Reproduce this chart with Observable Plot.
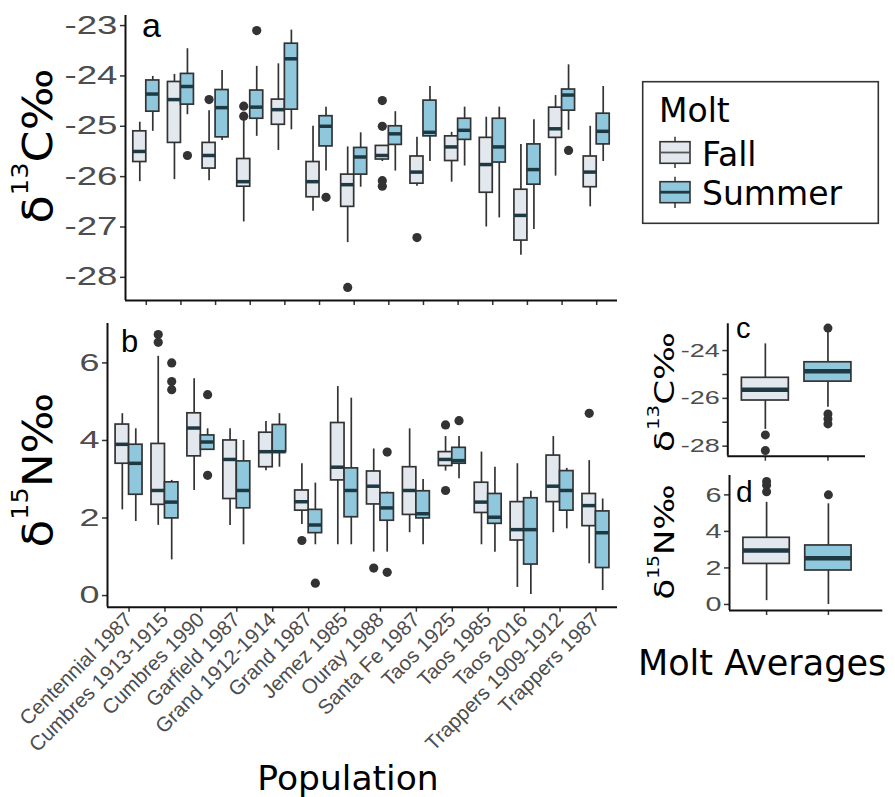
<!DOCTYPE html>
<html><head><meta charset="utf-8">
<script src="https://cdn.jsdelivr.net/npm/d3@7"></script>
<script src="https://cdn.jsdelivr.net/npm/@observablehq/plot@0.6"></script>
<style>
body{margin:0;background:#fff;}
#wrap{position:relative;width:895px;height:797px;overflow:hidden;background:#fff;}
#wrap > svg{position:absolute;}
</style></head><body><div id="wrap"></div>
<script>
const populations = ["Centennial 1987","Cumbres 1913-1915","Cumbres 1990","Garfield 1987","Grand 1912-1914","Grand 1987","Jemez 1985","Ouray 1988","Santa Fe 1987","Taos 1925","Taos 1985","Taos 2016","Trappers 1909-1912","Trappers 1987"];
const molts = ["Fall","Summer"];

// each row: [lower whisker, Q1, median, Q3, upper whisker]
const c13Fall = [
  [-26.10,-25.71,-25.50,-25.10,-24.92],[-26.06,-25.33,-24.47,-24.12,-23.97],[-26.08,-25.84,-25.58,-25.33,-24.69],
  [-26.90,-26.20,-26.10,-25.65,-24.87],[-25.48,-24.97,-24.67,-24.47,-23.76],[-26.69,-26.41,-26.10,-25.71,-25.00],
  [-27.31,-26.60,-26.16,-25.96,-25.41],[-25.70,-25.66,-25.58,-25.39,-25.39],[-26.19,-26.14,-25.91,-25.60,-25.22],
  [-26.11,-25.69,-25.41,-25.20,-25.12],[-27.00,-26.32,-25.76,-25.23,-24.82],[-27.56,-27.27,-26.77,-26.26,-25.36],
  [-25.99,-25.23,-25.05,-24.63,-24.39],[-26.60,-26.21,-25.91,-25.60,-25.00]];
const c13Summer = [
  [-25.10,-24.71,-24.36,-24.09,-24.01],[-24.77,-24.57,-24.21,-23.96,-23.46],[-25.28,-25.22,-24.63,-24.28,-23.89],
  [-25.20,-24.85,-24.62,-24.29,-23.81],[-25.07,-24.67,-23.66,-23.36,-23.09],[-25.89,-25.40,-25.00,-24.80,-24.62],
  [-26.21,-25.96,-25.61,-25.43,-25.13],[-25.89,-25.37,-25.15,-25.00,-24.71],[-25.70,-25.20,-25.12,-24.49,-24.21],
  [-25.79,-25.27,-25.08,-24.85,-24.62],[-26.82,-25.72,-25.41,-24.85,-24.62],[-27.05,-26.16,-25.86,-25.36,-24.87],
  [-25.08,-24.69,-24.38,-24.27,-23.78],[-25.70,-25.36,-25.10,-24.75,-24.21]];
const c13FallOutliers = [["Cumbres 1990",-24.47],["Garfield 1987",-24.60],["Garfield 1987",-24.80],["Jemez 1985",-28.20],
  ["Ouray 1988",-24.49],["Ouray 1988",-25.00],["Ouray 1988",-26.08],["Ouray 1988",-26.19],["Santa Fe 1987",-27.21]];
const c13SummerOutliers = [["Cumbres 1913-1915",-25.58],["Garfield 1987",-23.10],["Grand 1987",-26.41],["Trappers 1909-1912",-25.48]];

const n15Fall = [
  [2.21,3.40,3.90,4.41,4.69],[1.81,2.34,2.71,3.91,6.17],[2.71,3.59,4.32,4.70,5.59],[1.81,2.49,3.51,4.00,4.30],
  [3.22,3.31,3.71,4.20,4.49],[1.83,2.19,2.42,2.71,3.40],[1.31,2.97,3.31,4.45,5.39],[1.12,2.35,2.82,3.20,3.78],
  [1.62,2.08,2.71,3.31,4.30],[3.21,3.34,3.51,3.70,4.10],[1.31,2.13,2.41,2.91,3.70],[0.21,1.42,1.70,2.41,3.40],
  [1.62,2.41,2.82,3.61,4.10],[0.82,1.79,2.32,2.62,3.48]];
const n15Summer = [
  [1.91,2.60,3.41,3.89,4.30],[0.92,1.99,2.41,2.92,2.97],[3.74,3.76,3.96,4.13,4.30],[1.31,2.25,2.71,3.46,4.00],
  [3.31,3.70,3.71,4.40,4.69],[1.31,1.61,1.82,2.21,2.90],[1.31,2.02,2.71,3.28,5.09],[1.12,1.93,2.26,2.64,2.67],
  [1.31,1.99,2.11,2.69,2.99],[3.01,3.40,3.48,3.81,4.10],[1.12,1.85,2.02,2.62,3.31],[0.03,0.80,1.70,2.51,2.69],
  [1.72,2.19,2.71,3.21,3.28],[0.13,0.71,1.62,2.17,2.49]];
const n15FallOutliers = [["Cumbres 1913-1915",6.73],["Cumbres 1913-1915",6.53],["Grand 1987",1.42],["Ouray 1988",0.71],
  ["Taos 1925",4.40],["Taos 1925",2.71],["Trappers 1987",4.70]];
const n15SummerOutliers = [["Cumbres 1913-1915",6.00],["Cumbres 1913-1915",5.52],["Cumbres 1913-1915",5.31],
  ["Cumbres 1990",5.18],["Cumbres 1990",3.10],["Grand 1987",0.32],["Ouray 1988",3.70],["Ouray 1988",0.60],["Taos 1925",4.51]];

// Molt averages (panels c, d)
const c13Avg = [[-27.30,-26.09,-25.64,-25.14,-23.72],[-26.37,-25.30,-24.87,-24.49,-23.20]];
const c13AvgOutliers = [["Fall",-27.53],["Fall",-28.18],["Summer",-23.06],["Summer",-26.65],["Summer",-26.86],["Summer",-27.07]];
const n15Avg = [[0.21,2.22,2.95,3.65,5.59],[0.00,1.86,2.53,3.23,5.51]];
const n15AvgOutliers = [["Fall",6.17],["Fall",6.53],["Fall",6.73],["Summer",6.00]];

const c13Ticks = [-28,-27,-26,-25,-24,-23];
const n15Ticks = [0,2,4,6];
const c13AvgTicks = [-28,-27,-26,-25,-24];
const c13AvgLabels = [-28,-26,-24];
const n15AvgTicks = [0,2,4,6];

const fillRange = ["#e2e8ed", "#8fc8dc"];
const wrap = document.getElementById("wrap");

function popRows(fallArr, summerArr) {
  const rows = [];
  populations.forEach((p, i) => {
    [[fallArr, "Fall"], [summerArr, "Summer"]].forEach(([arr, m]) => {
      const [lo, q1, med, q3, hi] = arr[i];
      const left = m === "Fall";
      rows.push({pop: p, molt: m, cx: i + (left ? -0.1875 : 0.1875), x1: left ? i - 0.375 : i, x2: left ? i : i + 0.375, lo, q1, med, q3, hi});
    });
  });
  return rows;
}
function popOuts(list, molt) {
  return list.map(([p, v]) => ({cx: populations.indexOf(p) + (molt === "Fall" ? -0.1875 : 0.1875), v}));
}
function avgRows(arr) {
  return molts.map((m, k) => { const [lo, q1, med, q3, hi] = arr[k]; return {molt: m, cx: k, x1: k - 0.375, x2: k + 0.375, lo, q1, med, q3, hi}; });
}
function avgOuts(list) { return list.map(([m, v]) => ({cx: molts.indexOf(m), v})); }

function panel(o) {
  const marks = [
    Plot.axisY({ticks: o.yTicks, tickSize: 5, tickPadding: 3, fontSize: o.yFont, tickFormat: o.yFormat || (d => String(d))}),
    Plot.axisX({ticks: o.xTicks, tickSize: 5, tickPadding: o.xPad || 2, fontSize: o.xFont || 10,
      tickFormat: o.xFormat || (() => ""), ...(o.rotate ? {tickRotate: -45, textAnchor: "end"} : {})}),
    Plot.ruleX(o.rows, {x: "cx", y1: "lo", y2: "hi", stroke: "#333", strokeWidth: 1.7}),
    Plot.rect(o.rows, {x1: "x1", x2: "x2", y1: "q1", y2: "q3", fill: "molt", stroke: "#333", strokeWidth: 1.7}),
    Plot.ruleY(o.rows, {x1: "x1", x2: "x2", y: "med", stroke: "#1f3942", strokeWidth: o.medW}),
    Plot.dot(o.outs, {x: "cx", y: "v", r: o.r, fill: "#333", stroke: null}),
    Plot.ruleX([o.xDomain[0]], {stroke: "#111", strokeWidth: 2}),
    Plot.ruleY([o.yDomain[0]], o.xLineEnd != null ? {x1: o.xDomain[0], x2: o.xLineEnd, stroke: "#111", strokeWidth: 2} : {stroke: "#111", strokeWidth: 2})
  ];
  const svg = Plot.plot({
    width: o.width, height: o.height,
    marginLeft: o.ml, marginRight: o.mr, marginTop: o.mt, marginBottom: o.mb,
    x: {type: "linear", domain: o.xDomain},
    y: {domain: o.yDomain},
    color: {domain: molts, range: fillRange},
    style: {fontFamily: "Liberation Sans", background: "transparent", overflow: "visible"},
    marks
  });
  const s = d3.select(svg);
  s.selectAll('g[aria-label="y-axis tick label"], g[aria-label="x-axis tick label"]').attr("fill", "#4d4d4d");
  s.selectAll('g[aria-label="y-axis tick"], g[aria-label="x-axis tick"]').attr("stroke", "#333").attr("stroke-width", 1.5);
  if (o.yLen) s.selectAll('g[aria-label="y-axis tick label"] text')
    .filter(function() { return this.textContent !== ""; })
    .attr("textLength", o.yLen).attr("lengthAdjust", "spacingAndGlyphs");
  svg.style.left = o.left + "px";
  svg.style.top = o.top + "px";
  wrap.appendChild(svg);
  return svg;
}

// panel a
panel({rows: popRows(c13Fall, c13Summer), outs: [...popOuts(c13FallOutliers, "Fall"), ...popOuts(c13SummerOutliers, "Summer")],
  xDomain: [-0.6, 13.6], yDomain: [-28.46, -22.80], yTicks: c13Ticks, xTicks: d3.range(populations.length),
  yFont: 25, yLen: 53, medW: 3.5, r: 4.6,
  left: 0, top: 0, width: 625, height: 312, ml: 125, mr: 8, mt: 15, mb: 12});

// panel b
panel({rows: popRows(n15Fall, n15Summer), outs: [...popOuts(n15FallOutliers, "Fall"), ...popOuts(n15SummerOutliers, "Summer")],
  xDomain: [-0.6, 13.6], yDomain: [-0.3, 7.016], yTicks: n15Ticks, xTicks: d3.range(populations.length),
  xFormat: i => populations[i], xFont: 20.5, xPad: 4, rotate: true,
  yFont: 24, yLen: 20, medW: 3.5, r: 4.6,
  left: 0, top: 300, width: 625, height: 497, ml: 107, mr: 8, mt: 23, mb: 190.3});

// panel c
panel({rows: avgRows(c13Avg), outs: avgOuts(c13AvgOutliers),
  xDomain: [-0.6, 1.6], yDomain: [-28.42, -22.88], yTicks: c13AvgTicks, xTicks: [0, 1],
  yFormat: d => c13AvgLabels.includes(d) ? String(d) : "",
  yFont: 19, yLen: 39, medW: 4.5, r: 4.5,
  left: 620, top: 300, width: 275, height: 170, ml: 107.3, mr: 30, mt: 23.3, mb: 14.3});

// panel d
panel({rows: avgRows(n15Avg), outs: avgOuts(n15AvgOutliers),
  xDomain: [-0.6, 1.6], yDomain: [-0.33, 7.06], yTicks: n15AvgTicks, xTicks: [0, 1], xLineEnd: 1.88,
  yFont: 21, yLen: 16, medW: 4.5, r: 4.5,
  left: 620, top: 460, width: 275, height: 160, ml: 109, mr: 30, mt: 15, mb: 10});

// overlay: titles, panel tags, legend
const ov = d3.select(wrap).append("svg").attr("width", 895).attr("height", 797)
  .style("left", "0px").style("top", "0px").style("pointer-events", "none");

function isoTitle(x, y, mass, el, size, supSize, supDy, len) {
  const t = ov.append("text").attr("transform", `translate(${x},${y}) rotate(-90)`).attr("text-anchor", "middle")
    .attr("font-family", "DejaVu Sans").attr("font-size", size).attr("fill", "#000");
  t.append("tspan").text("δ");
  t.append("tspan").attr("font-size", supSize).attr("dy", -supDy).text(mass);
  t.append("tspan").attr("dy", supDy).text(el + "‰");
  const w = t.node().getBBox().width;
  if (w > 0) t.attr("transform", `translate(${x},${y}) rotate(-90) scale(${len / w},1)`);
}
isoTitle(52, 146, "13", "C", 41, 23, 24, 155);
isoTitle(52, 470, "15", "N", 41, 23, 24, 155);
isoTitle(674, 392, "13", "C", 27, 15, 15, 120);
isoTitle(674, 542, "15", "N", 27, 15, 15, 115);

function tag(x, y, s, size) {
  ov.append("text").attr("x", x).attr("y", y).attr("font-family", "Liberation Sans").attr("font-size", size).attr("fill", "#000").text(s);
}
tag(142, 37, "a", 34);
tag(121, 352, "b", 31);
tag(736, 338, "c", 29);
tag(736, 502, "d", 30);

ov.append("text").attr("x", 348).attr("y", 790).attr("text-anchor", "middle").attr("font-family", "DejaVu Sans")
  .attr("font-size", 34.5).attr("fill", "#000").text("Population");
ov.append("text").attr("x", 638).attr("y", 675).attr("font-family", "DejaVu Sans")
  .attr("font-size", 35).attr("fill", "#000").text("Molt Averages");

// legend
ov.append("rect").attr("x", 642.7).attr("y", 81.7).attr("width", 235.6).attr("height", 141.6)
  .attr("fill", "none").attr("stroke", "#333").attr("stroke-width", 1.6);
ov.append("text").attr("x", 659).attr("y", 122).attr("font-family", "DejaVu Sans").attr("font-size", 33).attr("fill", "#000").text("Molt");
const keyY = [[136.7, 141.7, 163.3, 168], [176.7, 181.7, 202.7, 208]];
molts.forEach((m, k) => {
  const [w1, b1, b2, w2] = keyY[k];
  ov.append("line").attr("x1", 675).attr("x2", 675).attr("y1", w1).attr("y2", w2).attr("stroke", "#333").attr("stroke-width", 1.5);
  ov.append("rect").attr("x", 660).attr("y", b1).attr("width", 30).attr("height", b2 - b1)
    .attr("fill", fillRange[k]).attr("stroke", "#333").attr("stroke-width", 1.6);
  ov.append("line").attr("x1", 660).attr("x2", 690).attr("y1", (b1 + b2) / 2).attr("y2", (b1 + b2) / 2)
    .attr("stroke", k === 0 ? "#555" : "#1f3942").attr("stroke-width", k === 0 ? 1.8 : 2.8);
  ov.append("text").attr("x", 702).attr("y", k === 0 ? 166 : 205).attr("font-family", "DejaVu Sans")
    .attr("font-size", 33).attr("fill", "#000").text(m);
});
</script></body></html>
